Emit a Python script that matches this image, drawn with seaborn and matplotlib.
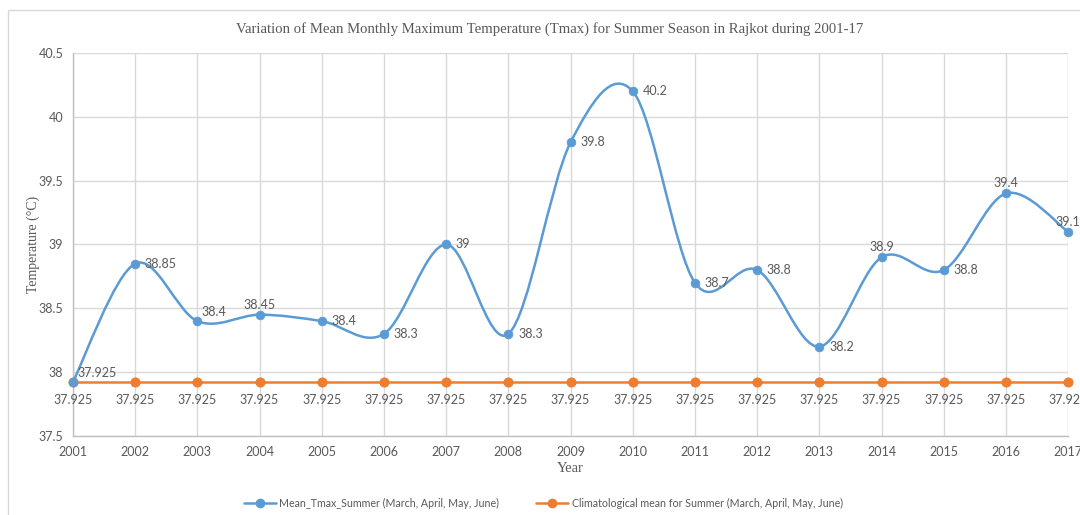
import numpy as np
import pandas as pd
import matplotlib
matplotlib.use("Agg")
import matplotlib.pyplot as plt
from matplotlib.path import Path
from matplotlib.patches import PathPatch, Rectangle
from matplotlib.lines import Line2D
from matplotlib.ticker import FuncFormatter
import seaborn as sns

years = [2001, 2002, 2003, 2004, 2005, 2006, 2007, 2008, 2009,
         2010, 2011, 2012, 2013, 2014, 2015, 2016, 2017]
tmax_summer = [37.925, 38.85, 38.4, 38.45, 38.4, 38.3, 39, 38.3, 39.8,
               40.2, 38.7, 38.8, 38.2, 38.9, 38.8, 39.4, 39.1]
clim_mean = [37.925] * len(years)

series_names = ["Mean_Tmax_Summer (March, April, May, June)",
                "Climatological mean for Summer (March, April, May, June)"]
title = "Variation of Mean Monthly Maximum Temperature (Tmax) for Summer Season in Rajkot during 2001-17"

# where the blue data labels sit: r = right of point, t = above
label_pos = ["tr", "r", "tr", "t", "r", "r", "r", "r", "r",
             "r", "r", "r", "r", "t", "r", "t", "t"]

BLUE = "#5B9BD5"
ORANGE = "#ED7D31"
GRID = "#D9D9D9"
TXT = "#595959"

sns.set_theme(style="white")
plt.rcParams["font.family"] = ["Lato", "DejaVu Sans"]

df = pd.DataFrame({"year": years, "tmax": tmax_summer, "clim": clim_mean})

fig = plt.figure(figsize=(10.8, 5.15), dpi=100)
ax = fig.add_axes([0.0676, 0.1534, 0.9214, 0.7437])

# excel-like smoothed line (catmull-rom bezier through the points)
x = df["year"].to_numpy(float)
y = df["tmax"].to_numpy(float)
verts = [(x[0], y[0])]
codes = [Path.MOVETO]
n = len(x)
for i in range(n - 1):
    p0 = np.array([x[max(i - 1, 0)], y[max(i - 1, 0)]])
    p1 = np.array([x[i], y[i]])
    p2 = np.array([x[i + 1], y[i + 1]])
    p3 = np.array([x[min(i + 2, n - 1)], y[min(i + 2, n - 1)]])
    c1 = p1 + (p2 - p0) / 6
    c2 = p2 - (p3 - p1) / 6
    verts += [tuple(c1), tuple(c2), tuple(p2)]
    codes += [Path.CURVE4] * 3
ax.add_patch(PathPatch(Path(verts, codes), facecolor="none", edgecolor=BLUE,
                       lw=1.8, zorder=3, clip_on=False))
sns.scatterplot(data=df, x="year", y="tmax", color=BLUE, s=40, edgecolor=BLUE,
                zorder=4, ax=ax, clip_on=False)

sns.lineplot(data=df, x="year", y="clim", color=ORANGE, lw=1.8, marker="o",
             markersize=6.5, markeredgecolor=ORANGE, zorder=3, ax=ax, clip_on=False)

# data labels
for xi, yi, pos in zip(years, tmax_summer, label_pos):
    if pos == "r":
        ax.annotate(f"{yi:g}", (xi, yi), xytext=(7, 0), textcoords="offset points",
                    ha="left", va="center", fontsize=9, color=TXT)
    elif pos == "tr":
        ax.annotate(f"{yi:g}", (xi, yi), xytext=(3, 2), textcoords="offset points",
                    ha="left", va="bottom", fontsize=9, color=TXT)
    else:
        ax.annotate(f"{yi:g}", (xi, yi), xytext=(0, 3), textcoords="offset points",
                    ha="center", va="bottom", fontsize=9, color=TXT)
for xi, yi in zip(years, clim_mean):
    ax.annotate(f"{yi:g}", (xi, yi), xytext=(0, -9), textcoords="offset points",
                ha="center", va="top", fontsize=9, color=TXT)

ax.set_xlim(2001, 2017)
ax.set_ylim(37.5, 40.5)
ax.set_xticks(years)
ax.set_yticks(np.arange(37.5, 40.51, 0.5))
ax.yaxis.set_major_formatter(FuncFormatter(lambda v, p: f"{v:g}"))
ax.grid(True, color=GRID, lw=1)
ax.set_axisbelow(True)
for s in ["top", "right"]:
    ax.spines[s].set_visible(False)
for s in ["left", "bottom"]:
    ax.spines[s].set_color("#BFBFBF")
    ax.spines[s].set_linewidth(1)
ax.tick_params(axis="both", labelsize=9, labelcolor=TXT, length=0, pad=7)

serif = ["Liberation Serif", "DejaVu Serif"]
ax.set_xlabel("Year", family=serif, fontsize=10.5, color=TXT, labelpad=3)
ax.set_ylabel("Temperature (°C)", family=serif, fontsize=10, color=TXT, labelpad=-1)
fig.text(0.509, 0.943, title, family=serif, fontsize=10.6, color=TXT,
         ha="center", va="center")

handles = [Line2D([], [], color=BLUE, lw=1.8, marker="o", markersize=6),
           Line2D([], [], color=ORANGE, lw=1.8, marker="o", markersize=6)]
fig.legend(handles, series_names, loc="center", bbox_to_anchor=(0.503, 0.023),
           ncol=2, frameon=False, fontsize=7.7, labelcolor=TXT,
           handlelength=3, columnspacing=3.5, handletextpad=0.3)

fig.patches.append(Rectangle((8 / 1080, -0.1), 1.2, 1 - 10 / 515 + 0.1,
                             transform=fig.transFigure, fill=False,
                             edgecolor=GRID, lw=1))

fig.savefig("out.png", dpi=100)
